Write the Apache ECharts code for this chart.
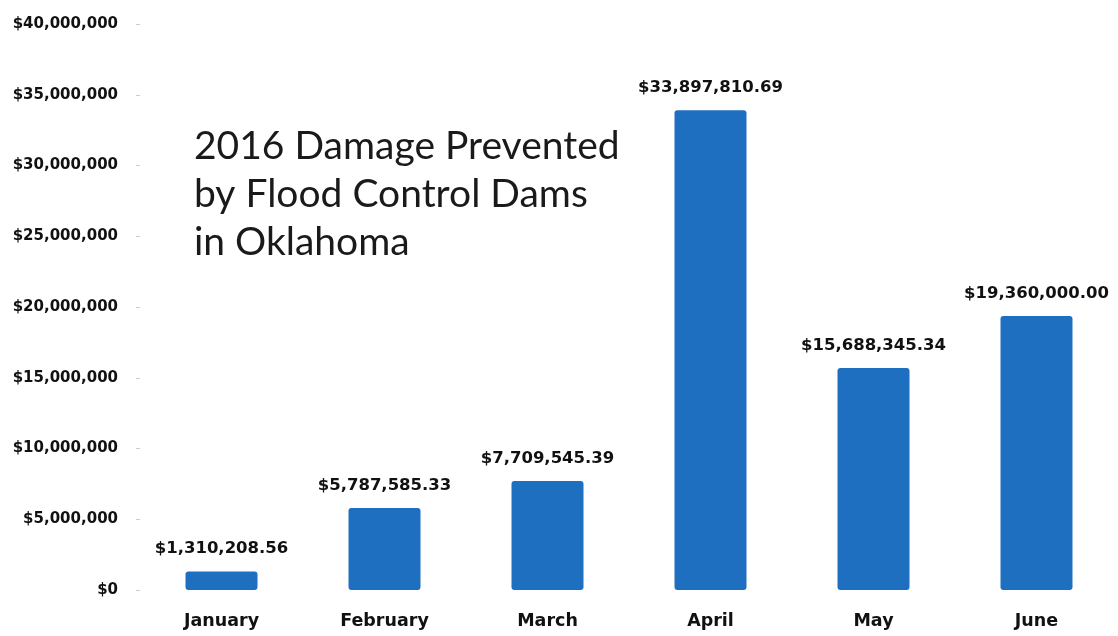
<!DOCTYPE html>
<html><head><meta charset="utf-8">
<script src="https://cdn.jsdelivr.net/npm/echarts@6/dist/echarts.min.js"></script>
<style>html,body{margin:0;padding:0;background:#fff}#c{width:1118px;height:636px}</style>
</head><body><div id="c"></div>
<script>
const categories = ['January','February','March','April','May','June'];
const values = [1310208.56, 5787585.33, 7709545.39, 33897810.69, 15688345.34, 19360000.00];
const titleLines = ['2016 Damage Prevented','by Flood Control Dams','in Oklahoma'];

function money0(v){ return '$' + Math.round(v).toLocaleString('en-US'); }
function money2(v){ return '$' + v.toLocaleString('en-US',{minimumFractionDigits:2,maximumFractionDigits:2}); }

const chart = echarts.init(document.getElementById('c'));
chart.setOption({
  backgroundColor:'#ffffff',
  animation:false,
  title:{
    text: titleLines.join('\n'),
    left:189, top:117,
    textStyle:{fontFamily:'Lato', fontSize:39, fontWeight:'normal', color:'#1a1a1a', lineHeight:48}
  },
  grid:{left:140, right:0, top:24, bottom:46},
  xAxis:{
    type:'category', data:categories,
    axisLine:{show:false}, axisTick:{show:false},
    axisLabel:{fontFamily:'DejaVu Sans', fontWeight:'bold', fontSize:17.5, color:'#111', margin:22}
  },
  yAxis:{
    type:'value', min:0, max:40000000, interval:5000000,
    splitLine:{show:false},
    axisLine:{show:false},
    axisTick:{show:true, length:4, lineStyle:{color:'#cccccc'}},
    axisLabel:{formatter:money0, fontFamily:'DejaVu Sans', fontWeight:'bold', fontSize:15, color:'#111', margin:22}
  },
  series:[{
    type:'bar', data:values, barWidth:72,
    itemStyle:{color:'#1f6fc0', borderRadius:3},
    label:{show:true, position:'top', distance:14, formatter:p=>money2(p.value),
      fontFamily:'DejaVu Sans', fontWeight:'bold', fontSize:16.5, color:'#111'}
  }]
});
</script></body></html>
